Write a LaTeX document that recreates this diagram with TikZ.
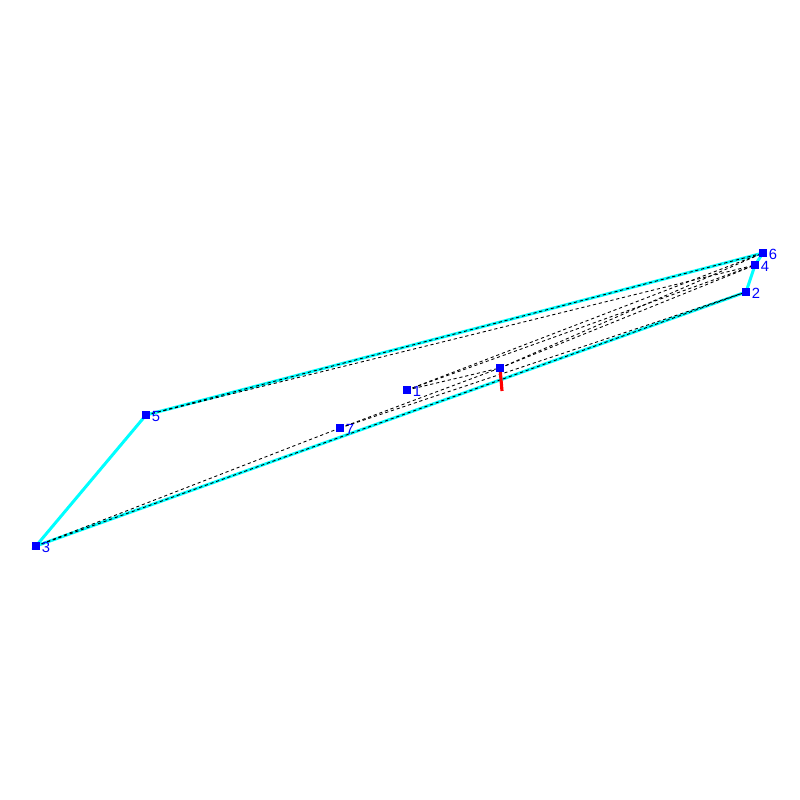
\documentclass[tikz,border=0pt]{standalone}
\usepackage{fontspec}
\setsansfont{Liberation Sans}
\usetikzlibrary{backgrounds}
\definecolor{aqua}{RGB}{0,255,255}
\begin{document}
\begin{tikzpicture}[x=0.01cm, y=-0.01cm,
    pt/.style={draw=none, fill=blue, minimum size=2pt, inner sep=0pt},
    lbl/.style={text=blue, font=\sffamily\fontsize{4.2}{5}\selectfont, inner sep=0.3pt, yshift=-0.3pt},
    rim/.style={aqua, line width=0.85pt},
    tri/.style={black, line width=0.25pt, dash pattern=on 0.9pt off 0.8pt},
    cut/.style={red, line width=0.9pt}]
    \useasboundingbox (0,0) rectangle (800,800);

    \node[pt, label={[lbl]right:1}] (p1) at (407,390) {};
    \node[pt, label={[lbl]right:2}] (p2) at (746,292) {};
    \node[pt, label={[lbl]right:3}] (p3) at (36,546) {};
    \node[pt, label={[lbl]right:4}] (p4) at (755,265) {};
    \node[pt, label={[lbl]right:5}] (p5) at (146,415) {};
    \node[pt, label={[lbl]right:6}] (p6) at (763,253) {};
    \node[pt, label={[lbl]right:7}] (p7) at (340,428) {};
    \node[pt] (p8) at (500,368) {};
    \coordinate (q8) at (502,391);

    \begin{scope}[on background layer]
    \draw[rim] (p3.center) -- (p5.center) -- (p6.center) -- (p4.center) -- (p2.center) -- cycle;

    \draw[tri] (p5.center) -- (p6.center);
    \draw[tri] (p5.center) -- (p4.center);
    \draw[tri] (p3.center) -- (p2.center);
    \draw[tri] (p3.center) -- (p7.center);
    \draw[tri] (p7.center) -- (p8.center);
    \draw[tri] (p1.center) -- (p8.center);
    \draw[tri] (p1.center) -- (p6.center);
    \draw[tri] (p1.center) -- (p4.center);
    \draw[tri] (p8.center) -- (p6.center);
    \draw[tri] (p8.center) -- (p4.center);
    \draw[tri] (p7.center) -- (p2.center);

    \draw[cut] (p8.center) -- (q8);
    \end{scope}
\end{tikzpicture}
\end{document}
